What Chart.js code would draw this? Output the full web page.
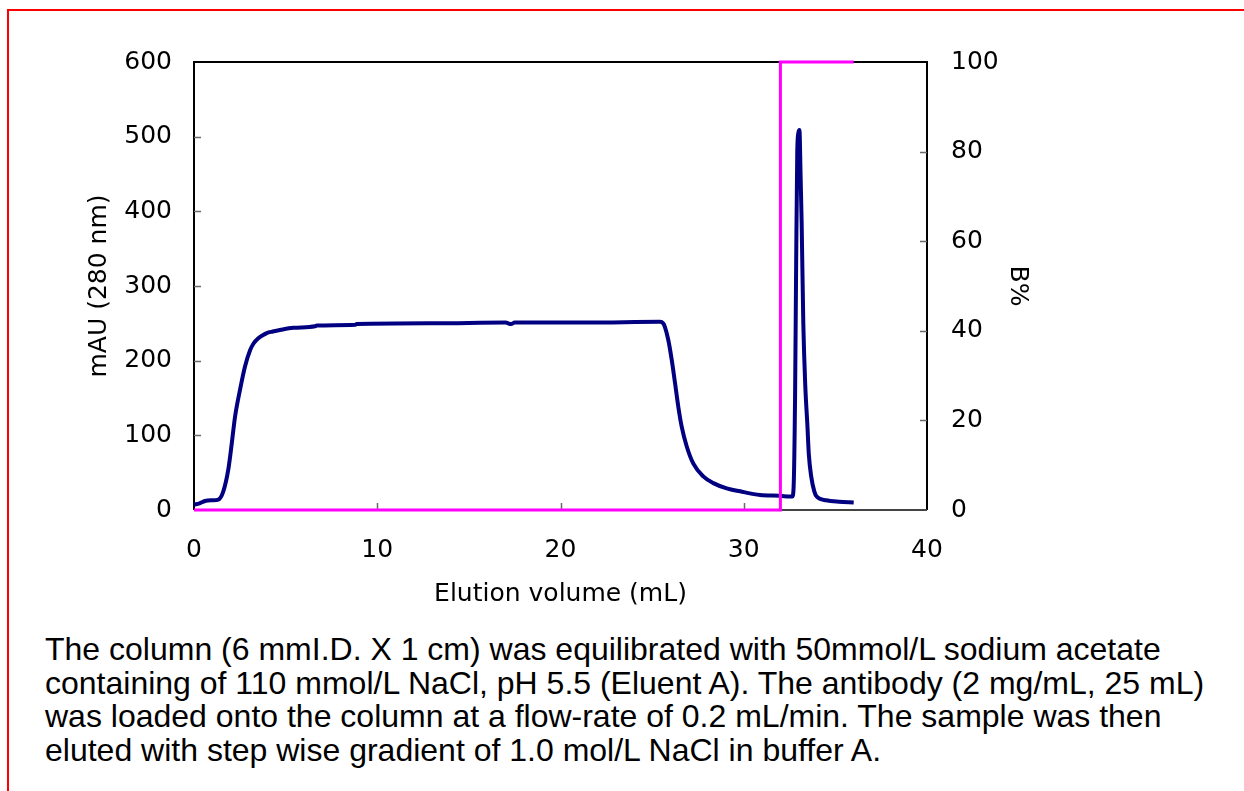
<!DOCTYPE html>
<html>
<head>
<meta charset="utf-8">
<title>Elution profile</title>
<script src="https://cdn.jsdelivr.net/npm/chart.js@4/dist/chart.umd.min.js"></script>
<style>
  html, body { margin: 0; padding: 0; background: #fff; }
  body { width: 1244px; height: 791px; position: relative; overflow: hidden; }
  #redFrame {
    position: absolute; left: 7px; top: 9px; right: -10px; bottom: -10px;
    border-top: 2px solid #ff0000; border-left: 2px solid #ff0000;
  }
  #chartBox { position: absolute; left: 0; top: 0; width: 1244px; height: 620px; }
  #caption {
    position: absolute; left: 45px; top: 633px;
    font-family: "Liberation Sans", Arial, sans-serif;
    font-size: 32px; line-height: 33.5px; color: #000; white-space: nowrap;
  }
</style>
</head>
<body>
<div id="redFrame"></div>
<div id="chartBox"><canvas id="elution"></canvas></div>
<div id="caption">
  The column (6 mmI.D. X 1 cm) was equilibrated with 50mmol/L sodium acetate<br>
  containing of 110 mmol/L NaCl, pH 5.5 (Eluent A). The antibody (2 mg/mL, 25 mL)<br>
  was loaded onto the column at a flow-rate of 0.2 mL/min. The sample was then<br>
  eluted with step wise gradient of 1.0 mol/L NaCl in buffer A.
</div>
<script>
// UV trace (280 nm)
const volume = [0, 0.3, 0.6, 1.0, 1.33, 1.6, 1.87, 2.06, 2.24, 2.51, 2.78, 3.06, 3.25, 3.51,
  3.75, 3.97, 4.3, 4.69, 5.42, 6.6, 6.7, 8.8, 8.88, 13.06, 17.0, 17.3, 17.5, 21.5, 25.43,
  25.6, 25.7, 25.88, 26.07, 26.25, 26.43, 26.61, 26.89, 27.25, 27.79, 28.34, 29.07, 29.8,
  30.89, 31.98, 32.5, 32.65, 32.72, 32.8, 32.86, 32.92, 32.98, 33.04, 33.1, 33.16, 33.25,
  33.36, 33.47, 33.55, 33.68, 33.85, 33.98, 34.5, 35.2, 36.0];
const absorbance = [7, 9, 12, 13, 14, 25, 54, 89, 125, 161, 192, 214, 223, 230,
  234, 237, 239, 241, 244, 246, 247, 248, 249, 250, 251, 249, 251, 251, 252,
  250, 245, 228, 201, 170, 138, 112, 85, 62, 45, 36, 29, 25,
  20, 19, 18, 18, 30, 150, 330, 480, 505, 509, 450, 384, 250,
  165, 115, 75, 45, 25, 18, 13, 11, 10];

// step gradient, B%
const gradVolume = [0, 32, 32, 36];
const gradB = [0, 0, 100, 100];

const xTicks = [0, 10, 20, 30, 40];
const auTicks = [0, 100, 200, 300, 400, 500, 600];
const bTicks = [0, 20, 40, 60, 80, 100];

const FONT = "'DejaVu Sans', Verdana, sans-serif";
const tickFont = { family: FONT, size: 25 };

const plotFrame = {
  id: "plotFrame",
  beforeDatasetsDraw(chart) {
    const { ctx, chartArea: a, scales } = chart;
    ctx.save();
    ctx.lineWidth = 2;
    ctx.strokeStyle = "#000";
    ctx.beginPath();
    ctx.moveTo(a.left, a.bottom);
    ctx.lineTo(a.left, a.top);
    ctx.lineTo(a.right, a.top);
    ctx.lineTo(a.right, a.bottom);
    ctx.stroke();
    ctx.strokeStyle = "#444";
    ctx.beginPath();
    ctx.moveTo(a.left, a.bottom);
    ctx.lineTo(a.right, a.bottom);
    ctx.stroke();

    // short tick marks pointing into the plot
    ctx.lineWidth = 1.5;
    ctx.strokeStyle = "#6a6a6a";
    ctx.beginPath();
    scales.y.ticks.forEach(t => {
      if (t.value <= 0 || t.value >= 600) return;
      const py = Math.round(scales.y.getPixelForValue(t.value)) + 0.5;
      ctx.moveTo(a.left, py); ctx.lineTo(a.left + 7, py);
    });
    scales.y2.ticks.forEach(t => {
      if (t.value <= 0 || t.value >= 100) return;
      const py = Math.round(scales.y2.getPixelForValue(t.value)) + 0.5;
      ctx.moveTo(a.right, py); ctx.lineTo(a.right - 7, py);
    });
    scales.x.ticks.forEach(t => {
      if (t.value <= 0 || t.value >= 40) return;
      const px = Math.round(scales.x.getPixelForValue(t.value)) + 0.5;
      ctx.moveTo(px, a.bottom); ctx.lineTo(px, a.bottom - 7);
    });
    ctx.stroke();
    ctx.restore();
  }
};

new Chart(document.getElementById("elution"), {
  type: "line",
  data: {
    datasets: [
      {
        label: "B%",
        data: gradVolume.map((v, i) => ({ x: v, y: gradB[i] })),
        yAxisID: "y2",
        borderColor: "#ff00ff",
        borderWidth: 3,
        pointRadius: 0,
        tension: 0,
        clip: false,
        order: 0
      },
      {
        label: "mAU (280 nm)",
        data: volume.map((v, i) => ({ x: v, y: absorbance[i] })),
        yAxisID: "y",
        borderColor: "#000080",
        borderWidth: 4,
        pointRadius: 0,
        cubicInterpolationMode: "monotone",
        clip: false,
        order: 1
      }
    ]
  },
  options: {
    responsive: true,
    maintainAspectRatio: false,
    animation: false,
    events: [],
    layout: { padding: { left: 84, right: 212, top: 62, bottom: 11 } },
    plugins: { legend: { display: false }, tooltip: { enabled: false } },
    scales: {
      x: {
        type: "linear",
        min: 0, max: 40,
        afterBuildTicks: s => { s.ticks = xTicks.map(v => ({ value: v })); },
        afterFit: s => { s.height = 99; },
        grid: { display: false, drawTicks: false },
        border: { display: false },
        ticks: { font: tickFont, color: "#000", padding: 25, maxRotation: 0 },
        title: { display: true, text: "Elution volume (mL)", font: tickFont, color: "#000", padding: 0 }
      },
      y: {
        position: "left",
        min: 0, max: 600,
        afterBuildTicks: s => { s.ticks = auTicks.map(v => ({ value: v })); },
        afterFit: s => { s.width = 110; },
        grid: { display: false, drawTicks: false },
        border: { display: false },
        ticks: { font: tickFont, color: "#000", padding: 22 },
        title: { display: true, text: "mAU (280 nm)", font: tickFont, color: "#000", padding: 0 }
      },
      y2: {
        position: "right",
        min: 0, max: 100,
        afterBuildTicks: s => { s.ticks = bTicks.map(v => ({ value: v })); },
        afterFit: s => { s.width = 105; },
        grid: { display: false, drawTicks: false },
        border: { display: false },
        ticks: { font: tickFont, color: "#000", padding: 24 },
        title: { display: true, text: "B%", font: tickFont, color: "#000", padding: 0 }
      }
    }
  },
  plugins: [plotFrame]
});
</script>
</body>
</html>
